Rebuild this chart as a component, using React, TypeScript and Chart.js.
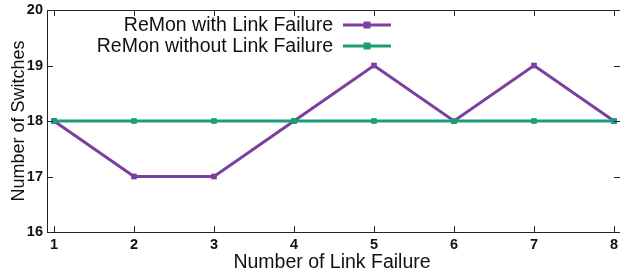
import React, { useEffect, useRef } from "react";
import { Chart, registerables } from "chart.js";

Chart.register(...registerables);

const categories = [1, 2, 3, 4, 5, 6, 7, 8];
const withFailure = [18, 17, 17, 18, 19, 18, 19, 18];
const withoutFailure = [18, 18, 18, 18, 18, 18, 18, 18];
const yTicks = [16, 17, 18, 19, 20];
const seriesNames = ["ReMon with Link Failure", "ReMon without Link Failure"];
const xTitle = "Number of Link Failure";
const yTitle = "Number of Switches";

const PURPLE = "#7b3f9f";
const GREEN = "#1b9e77";
const FONT = "'Liberation Sans', Arial, sans-serif";

const framePlugin = {
  id: "frame",
  afterDatasetsDraw(chart: any) {
    const { ctx, chartArea: a, scales } = chart;
    const xs = scales.x;
    const ys = scales.y;
    const R = a.right + 3;
    ctx.save();
    ctx.strokeStyle = "#222";
    ctx.lineWidth = 1;
    ctx.beginPath();
    ctx.moveTo(R, a.top + 0.5);
    ctx.lineTo(a.left + 0.5, a.top + 0.5);
    ctx.lineTo(a.left + 0.5, a.bottom + 0.5);
    ctx.lineTo(R, a.bottom + 0.5);
    ctx.stroke();
    const t = 6;
    ctx.beginPath();
    categories.forEach((c) => {
      const px = Math.round(xs.getPixelForValue(c)) + 0.5;
      ctx.moveTo(px, a.bottom);
      ctx.lineTo(px, a.bottom - t);
      ctx.moveTo(px, a.top);
      ctx.lineTo(px, a.top + t);
    });
    yTicks.forEach((v) => {
      const py = Math.round(ys.getPixelForValue(v)) + 0.5;
      ctx.moveTo(a.left, py);
      ctx.lineTo(a.left + t, py);
      ctx.moveTo(R, py);
      ctx.lineTo(R - t, py);
    });
    ctx.stroke();

    // legend
    const colors = [PURPLE, GREEN];
    const rows = [25, 46];
    ctx.font = `19.5px ${FONT}`;
    ctx.textAlign = "right";
    ctx.textBaseline = "middle";
    seriesNames.forEach((name, i) => {
      const y = rows[i];
      ctx.fillStyle = "#111";
      ctx.fillText(name, 333, y + 1);
      ctx.strokeStyle = colors[i];
      ctx.lineWidth = 3;
      ctx.beginPath();
      ctx.moveTo(343, y);
      ctx.lineTo(391, y);
      ctx.stroke();
      ctx.fillStyle = colors[i];
      ctx.fillRect(367 - 3.5, y - 3.5, 7, 7);
    });
    ctx.restore();
  },
};

export default function App() {
  const ref = useRef<HTMLCanvasElement>(null);
  useEffect(() => {
    if (!ref.current) return;
    const chart = new Chart(ref.current, {
      type: "line",
      data: {
        datasets: [
          {
            label: seriesNames[0],
            data: categories.map((c, i) => ({ x: c, y: withFailure[i] })),
            borderColor: PURPLE,
            backgroundColor: PURPLE,
            borderWidth: 3,
            pointStyle: "rect",
            pointRadius: 4,
            pointBorderWidth: 0,
            order: 2,
          },
          {
            label: seriesNames[1],
            data: categories.map((c, i) => ({ x: c, y: withoutFailure[i] })),
            borderColor: GREEN,
            backgroundColor: GREEN,
            borderWidth: 3,
            pointStyle: "rect",
            pointRadius: 4,
            pointBorderWidth: 0,
            order: 1,
          },
        ],
      },
      options: {
        animation: false,
        responsive: false,
        devicePixelRatio: 1,
        layout: { padding: { top: 10, right: 0, left: 0, bottom: 0 } },
        plugins: { legend: { display: false }, tooltip: { enabled: false } },
        scales: {
          x: {
            type: "linear",
            min: 0.9125,
            max: 8.0375,
            afterBuildTicks: (s: any) => {
              s.ticks = categories.map((v) => ({ value: v }));
            },
            afterFit: (s: any) => {
              s.height = 42;
              s.paddingLeft = 0;
              s.paddingRight = 0;
            },
            grid: { display: false, drawTicks: false },
            border: { display: false },
            ticks: {
              color: "#111",
              padding: 4,
              maxRotation: 0,
              font: { family: FONT, size: 14.5, weight: "bold" },
            },
            title: {
              display: true,
              text: xTitle,
              color: "#111",
              padding: { top: 0, bottom: 0 },
              font: { family: FONT, size: 19.5 },
            },
          },
          y: {
            type: "linear",
            min: 16,
            max: 20,
            afterBuildTicks: (s: any) => {
              s.ticks = yTicks.map((v) => ({ value: v }));
            },
            afterFit: (s: any) => {
              s.width = 47;
              s.paddingTop = 0;
              s.paddingBottom = 0;
            },
            grid: { display: false, drawTicks: false },
            border: { display: false },
            ticks: {
              color: "#111",
              padding: 4,
              font: { family: FONT, size: 14.5, weight: "bold" },
            },
            title: {
              display: true,
              text: yTitle,
              color: "#111",
              padding: { top: 8, bottom: 0 },
              font: { family: FONT, size: 18 },
            },
          },
        },
      },
      plugins: [framePlugin],
    });
    return () => chart.destroy();
  }, []);
  return (
    <div style={{ position: "fixed", left: 0, top: 0, width: 621, height: 274, background: "#fff" }}>
      <canvas ref={ref} width={621} height={274} style={{ display: "block" }} />
    </div>
  );
}
